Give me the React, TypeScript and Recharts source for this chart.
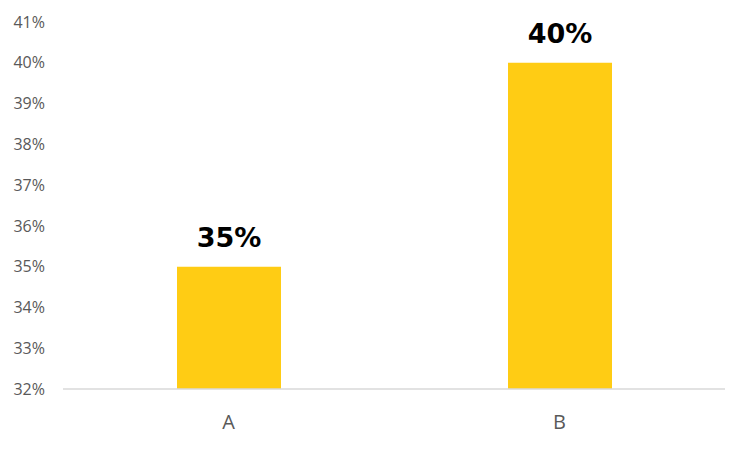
import React from 'react';
import { BarChart, Bar, XAxis, YAxis, LabelList } from 'recharts';

const categories = ['A', 'B'];
const shares = [35, 40];
const yTicks = [32, 33, 34, 35, 36, 37, 38, 39, 40, 41];

const data = categories.map((name, i) => ({ name, value: shares[i] }));

const tickStyle = {
  fontSize: 16,
  fontFamily: '"Open Sans", Calibri, sans-serif',
  fill: '#595959',
};

export default function App() {
  return (
    <div style={{ position: 'absolute', left: 0, top: 0, width: 750, height: 450, background: '#ffffff' }}>
      <BarChart
        width={750}
        height={450}
        data={data}
        margin={{ top: 22, right: 25, left: 0, bottom: 0 }}
      >
        <XAxis
          dataKey="name"
          axisLine={{ stroke: '#d9d9d9', strokeWidth: 1.5 }}
          tickLine={false}
          tickMargin={20}
          height={61}
          tick={{ ...tickStyle, fontSize: 20 }}
        />
        <YAxis
          width={63}
          domain={[32, 41]}
          ticks={yTicks}
          interval={0}
          axisLine={false}
          tickLine={false}
          tickMargin={12}
          tickFormatter={(v: number) => `${v}%`}
          tick={tickStyle}
        />
        <Bar dataKey="value" fill="#FFCC14" barSize={104} isAnimationActive={false}>
          <LabelList
            dataKey="value"
            position="top"
            offset={20}
            formatter={(v: number) => `${v}%`}
            style={{
              fontSize: 27,
              fontWeight: 700,
              fontFamily: '"DejaVu Sans", sans-serif',
              fill: '#000000',
            }}
          />
        </Bar>
      </BarChart>
    </div>
  );
}
